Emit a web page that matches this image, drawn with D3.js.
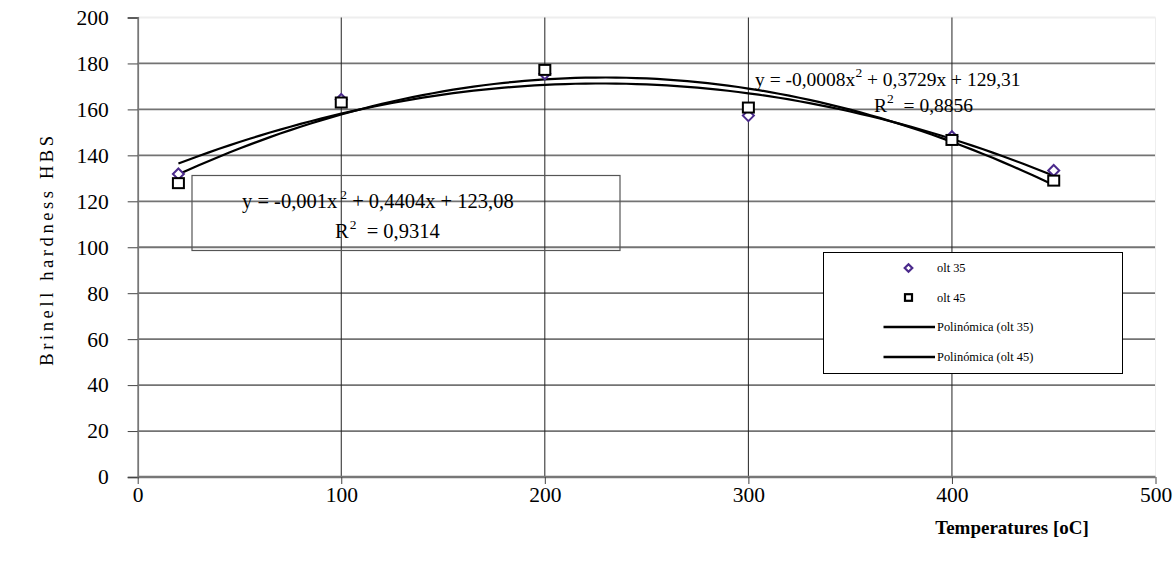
<!DOCTYPE html>
<html><head><meta charset="utf-8">
<script src="https://cdn.jsdelivr.net/npm/d3@7"></script>
<style>
body{margin:0;background:#fff;}
text{font-family:"Liberation Serif","Times New Roman",serif;}
</style></head>
<body>
<svg id="c" width="1174" height="568"></svg>
<script>
const temps = [20, 100, 200, 300, 400, 450];
const olt35 = [131.9, 164.3, 175.5, 157.3, 148.1, 133.4];
const olt45 = [127.9, 163, 177.2, 160.8, 146.7, 129];
const xTicks = [0, 100, 200, 300, 400, 500];
const yTicks = [0, 20, 40, 60, 80, 100, 120, 140, 160, 180, 200];
const eq35 = ["y = -0,001x", "2", " + 0,4404x + 123,08"];
const r35 = "0,9314";
const eq45 = ["y = -0,0008x", "2", " + 0,3729x + 129,31"];
const r45 = "0,8856";
const legendLabels = ["olt 35", "olt 45", "Polinómica (olt 35)", "Polinómica (olt 45)"];

const svg = d3.select("#c");
const x = d3.scaleLinear().domain([0, 500]).range([137.7, 1155.5]);
const y = d3.scaleLinear().domain([0, 200]).range([477, 17.5]);

// gridlines
svg.append("g").selectAll("line").data(yTicks.filter(d => d > 0)).join("line")
  .attr("x1", x(0)).attr("x2", x(500)).attr("y1", d => y(d)).attr("y2", d => y(d))
  .attr("stroke", d => d === 200 ? "#eee" : "#737373").attr("stroke-width", 1.8);
svg.append("g").selectAll("line").data(xTicks.filter(d => d > 0 && d < 500)).join("line")
  .attr("x1", d => x(d)).attr("x2", d => x(d)).attr("y1", y(200)).attr("y2", y(0))
  .attr("stroke", "#222").attr("stroke-width", 1);
svg.append("line").attr("x1", x(500)).attr("x2", x(500)).attr("y1", y(200)).attr("y2", y(0))
  .attr("stroke", "#eee").attr("stroke-width", 1);

// axes
const yAxis = d3.axisLeft(y).tickValues(yTicks).tickSize(10).tickPadding(19);
const gy = svg.append("g").attr("transform", `translate(${x(0)},0)`).call(yAxis);
gy.select(".domain").attr("stroke", "#777").attr("stroke-width", 1.8);
gy.selectAll(".tick line").attr("stroke", "#444");
gy.selectAll("text").attr("font-size", 21.5).attr("fill", "#000");

const xAxis = d3.axisBottom(x).tickValues(xTicks).tickSize(7).tickPadding(3);
const gx = svg.append("g").attr("transform", `translate(0,${y(0)})`).call(xAxis);
gx.select(".domain").attr("stroke", "#777").attr("stroke-width", 2.4).attr("d", `M${x(0)},0H${x(500)}`);
gx.selectAll(".tick line").attr("stroke", "#444");
gx.selectAll("text").attr("font-size", 21.5).attr("fill", "#000");

// quadratic least-squares trendlines fitted to the data
function fit2(xs, ys) {
  const n = xs.length;
  let s = [0,0,0,0,0], t = [0,0,0];
  for (let i = 0; i < n; i++) {
    for (let k = 0; k < 5; k++) s[k] += Math.pow(xs[i], k);
    for (let k = 0; k < 3; k++) t[k] += ys[i] * Math.pow(xs[i], k);
  }
  const A = [[s[0], s[1], s[2], t[0]], [s[1], s[2], s[3], t[1]], [s[2], s[3], s[4], t[2]]];
  for (let i = 0; i < 3; i++) {
    for (let j = i + 1; j < 3; j++) {
      const f = A[j][i] / A[i][i];
      for (let k = i; k < 4; k++) A[j][k] -= f * A[i][k];
    }
  }
  const c = [0,0,0];
  for (let i = 2; i >= 0; i--) {
    let v = A[i][3];
    for (let k = i + 1; k < 3; k++) v -= A[i][k] * c[k];
    c[i] = v / A[i][i];
  }
  return xv => c[0] + c[1] * xv + c[2] * xv * xv;
}
const line = d3.line().x(d => x(d[0])).y(d => y(d[1])).curve(d3.curveLinear);
[olt35, olt45].forEach(vals => {
  const f = fit2(temps, vals);
  const pts = d3.range(20, 450.1, 5).map(t => [t, f(t)]);
  svg.append("path").attr("d", line(pts)).attr("fill", "none").attr("stroke", "#000").attr("stroke-width", 2.2);
});

// markers
const diamond = (cx, cy, r) => `M${cx},${cy - r}L${cx + r},${cy}L${cx},${cy + r}L${cx - r},${cy}Z`;
svg.append("g").selectAll("path").data(temps.map((t, i) => [t, olt35[i]])).join("path")
  .attr("d", d => diamond(x(d[0]), y(d[1]), 5.5))
  .attr("fill", "#fff").attr("stroke", "#4b2a8c").attr("stroke-width", 2);
svg.append("g").selectAll("rect").data(temps.map((t, i) => [t, olt45[i]])).join("rect")
  .attr("x", d => x(d[0]) - 5.5).attr("y", d => y(d[1]) - 5).attr("width", 11).attr("height", 10)
  .attr("fill", "#fff").attr("stroke", "#000").attr("stroke-width", 2);

// equation box 1
svg.append("rect").attr("x", 192).attr("y", 175.5).attr("width", 428).attr("height", 75)
  .attr("fill", "none").attr("stroke", "#555").attr("stroke-width", 1.2);
function eqText(tx, ty, parts, fs, gap) {
  const t = svg.append("text").attr("x", tx).attr("y", ty).attr("font-size", fs).style("white-space", "pre");
  t.append("tspan").text(parts[0]);
  t.append("tspan").attr("dx", gap).attr("dy", -9).attr("font-size", 13.5).text(parts[1]);
  t.append("tspan").attr("dy", 9).text(parts[2]);
  return t;
}
eqText(242, 208, eq35, 20.5, 3);
eqText(335, 238, ["R", "2", "  = " + r35], 20.5, 1);
eqText(755, 86, eq45, 19.5, 0);
eqText(874, 112, ["R", "2", "  = " + r45], 19.5, 0);

// legend
const lg = svg.append("g");
lg.append("rect").attr("x", 823.5).attr("y", 252.5).attr("width", 299).attr("height", 121)
  .attr("fill", "#fff").attr("stroke", "#000").attr("stroke-width", 1);
const rowsY = [268, 297.5, 327, 357];
lg.append("path").attr("d", diamond(908.5, rowsY[0], 3.8)).attr("fill", "#fff").attr("stroke", "#4b2a8c").attr("stroke-width", 2.2);
lg.append("rect").attr("x", 905).attr("y", rowsY[1] - 3.3).attr("width", 7).attr("height", 6.6)
  .attr("fill", "#fff").attr("stroke", "#000").attr("stroke-width", 2.2);
[2, 3].forEach(i => lg.append("line").attr("x1", 883.5).attr("x2", 935).attr("y1", rowsY[i]).attr("y2", rowsY[i])
  .attr("stroke", "#000").attr("stroke-width", 2.3));
legendLabels.forEach((l, i) => lg.append("text").attr("x", 937).attr("y", rowsY[i] + 4.3)
  .attr("font-size", 12.4).text(l));

// axis titles
svg.append("text").attr("transform", "translate(53,249) rotate(-90)").attr("text-anchor", "middle")
  .attr("font-size", 18.5).attr("letter-spacing", "3.6px").text("Brinell hardness HBS");
svg.append("text").attr("x", 1012).attr("y", 534).attr("text-anchor", "middle")
  .attr("font-size", 19).attr("font-weight", "bold").text("Temperatures [oC]");
</script>
</body></html>
